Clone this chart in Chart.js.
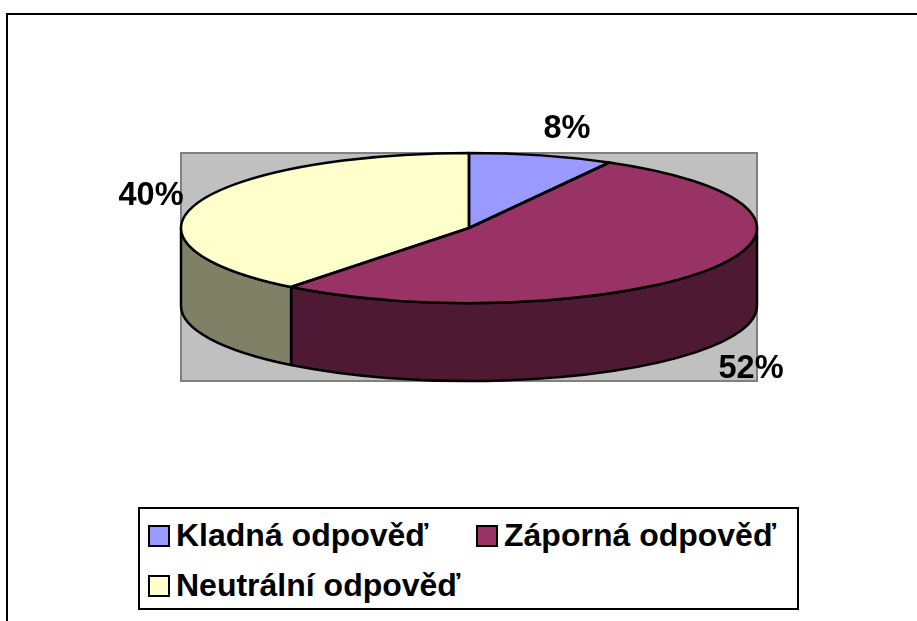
<!DOCTYPE html>
<html lang="cs">
<head>
<meta charset="utf-8">
<title>Odpovědi</title>
<script src="https://cdn.jsdelivr.net/npm/chart.js@4/dist/chart.umd.min.js"></script>
<style>
    body { margin: 0; background: #fff; }
    #wrap { position: relative; width: 917px; height: 621px; overflow: hidden; font-family: "Liberation Sans", Arial, sans-serif; }
    #frame { position: absolute; left: 6px; top: 13px; right: 0; bottom: 0; border-top: 2px solid #000; border-left: 2px solid #000; }
    canvas { position: absolute; left: 0; top: 0; }
    #legend { position: absolute; left: 138px; top: 507px; width: 657px; height: 99px; border: 2px solid #000; background: #fff; }
    .item { position: absolute; font-weight: bold; font-size: 32px; line-height: 34px; white-space: nowrap; color: #000; }
    .swatch { position: absolute; left: -28px; top: 7px; width: 18px; height: 18px; border: 2px solid #000; }
</style>
</head>
<body>
<div id="wrap">
    <div id="frame"></div>
    <canvas id="pie3d" width="917" height="621"></canvas>
    <div id="legend"></div>
</div>
<script>
// Data
const categories = ['Kladná odpověď', 'Záporná odpověď', 'Neutrální odpověď'];
const shares = [8.1, 52.5, 39.4];
const percentLabels = ['8%', '52%', '40%'];
const topColors = ['#9999FF', '#993366', '#FFFFCC'];
const sideColors = ['#4D4D80', '#4D1933', '#808066'];

// Layout of the flattened pie, in page pixels
const pieX = 469, pieY = 228, radiusX = 288, radiusY = 75, pieDepth = 78;
const labelSpots = [[567, 129], [751, 369], [151, 196]];
const legendSpots = [[36, 9], [364, 9], [36, 59]];

// Chart.js has no 3D pie: squash the library's arcs into an ellipse and add the wall by hand
const pie3dPlugin = {
    id: 'pie3d',
    beforeDatasetsDraw(chart) {
        const ctx = chart.ctx;
        const arcs = chart.getDatasetMeta(0).data;

        // Grey plot area behind the pie
        ctx.save();
        ctx.fillStyle = '#C0C0C0';
        ctx.strokeStyle = '#808080';
        ctx.lineWidth = 2;
        ctx.fillRect(pieX - radiusX, pieY - radiusY, radiusX * 2, radiusY * 2 + pieDepth);
        ctx.strokeRect(pieX - radiusX, pieY - radiusY, radiusX * 2, radiusY * 2 + pieDepth);

        // Front wall, only the part of each slice facing the viewer
        ctx.strokeStyle = '#000';
        ctx.lineWidth = 2.5;
        ctx.lineJoin = 'round';
        arcs.forEach((arc, i) => {
            const start = Math.max(arc.startAngle, 0);
            const end = Math.min(arc.endAngle, Math.PI);
            if (end <= start) return;
            ctx.beginPath();
            ctx.ellipse(pieX, pieY, radiusX, radiusY, 0, start, end);
            ctx.ellipse(pieX, pieY + pieDepth, radiusX, radiusY, 0, end, start, true);
            ctx.closePath();
            ctx.fillStyle = sideColors[i];
            ctx.fill();
            ctx.stroke();
        });
        ctx.restore();

        // Squash for the arcs themselves, undone in afterDatasetsDraw
        const first = arcs[0];
        ctx.save();
        ctx.translate(pieX, pieY);
        ctx.scale(1, radiusY / radiusX);
        ctx.translate(-first.x, -first.y);
    },
    afterDatasetsDraw(chart) {
        const ctx = chart.ctx;
        ctx.restore();

        // Outlines are stroked unsquashed so the line keeps its width
        ctx.save();
        ctx.strokeStyle = '#000';
        ctx.lineWidth = 2.5;
        ctx.lineJoin = 'round';
        chart.getDatasetMeta(0).data.forEach(arc => {
            ctx.beginPath();
            ctx.moveTo(pieX, pieY);
            ctx.ellipse(pieX, pieY, radiusX, radiusY, 0, arc.startAngle, arc.endAngle);
            ctx.closePath();
            ctx.stroke();
        });

        // Percent labels
        ctx.fillStyle = '#000';
        ctx.font = 'bold 32.5px "Liberation Sans", Arial, sans-serif';
        ctx.textAlign = 'center';
        ctx.textBaseline = 'middle';
        percentLabels.forEach((text, i) => {
            ctx.fillText(text, labelSpots[i][0], labelSpots[i][1]);
        });
        ctx.restore();
    }
};

new Chart(document.getElementById('pie3d').getContext('2d'), {
    type: 'pie',
    data: {
        labels: categories,
        datasets: [{
            data: shares,
            backgroundColor: topColors,
            borderWidth: 0,
            clip: false
        }]
    },
    options: {
        responsive: false,
        animation: false,
        radius: radiusX,
        layout: { padding: { left: pieX * 2 - 917 } },
        plugins: {
            legend: { display: false },
            tooltip: { enabled: false }
        }
    },
    plugins: [pie3dPlugin]
});

// Legend box
const legendBox = document.getElementById('legend');
categories.forEach((name, i) => {
    const item = document.createElement('div');
    item.className = 'item';
    item.style.left = legendSpots[i][0] + 'px';
    item.style.top = legendSpots[i][1] + 'px';
    const swatch = document.createElement('span');
    swatch.className = 'swatch';
    swatch.style.background = topColors[i];
    item.appendChild(swatch);
    item.appendChild(document.createTextNode(name));
    legendBox.appendChild(item);
});
</script>
</body>
</html>
